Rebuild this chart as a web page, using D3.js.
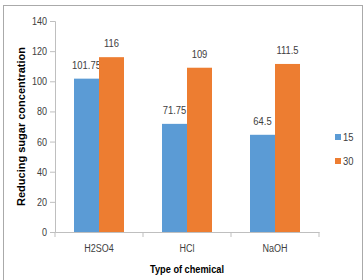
<!DOCTYPE html>
<html>
<head>
<meta charset="utf-8">
<script src="https://cdn.jsdelivr.net/npm/d3@7"></script>
<style>
  body { margin: 0; background: #fff; }
  svg { font-family: "Liberation Sans", Arial, sans-serif; }
</style>
</head>
<body>
<script>
const width = 364;
const height = 280;

var categories = ["H2SO4", "HCl", "NaOH"];
var seriesNames = ["15", "30"];
var values15 = [101.75, 71.75, 64.5];
var values30 = [116, 109, 111.5];
var yTicks = [0, 20, 40, 60, 80, 100, 120, 140];
var colors = ["#5B9BD5", "#ED7D31"];

var margin = { left: 55, right: 45, top: 21, bottom: 48 };
var narrow = 0.82; // squeeze text to look like a condensed font

var svg = d3.select("body")
  .append("svg")
  .attr("width", width)
  .attr("height", height);

// outer frame
svg.append("rect")
  .attr("x", 3.5).attr("y", 5.5)
  .attr("width", 359).attr("height", 290)
  .attr("fill", "none")
  .attr("stroke", "#aaa");

var x = d3.scaleBand()
  .domain(categories)
  .range([margin.left, width - margin.right]);

var x1 = d3.scaleBand()
  .domain(seriesNames)
  .range([0, x.bandwidth()])
  .paddingOuter(0.76);

var y = d3.scaleLinear()
  .domain([0, 140])
  .range([height - margin.bottom, margin.top]);

// y axis
var yAxis = svg.append("g")
  .attr("transform", "translate(" + margin.left + ",0)")
  .call(d3.axisLeft(y).tickValues(yTicks).tickSize(5).tickPadding(3));
yAxis.select(".domain").attr("stroke", "#bfbfbf");
yAxis.selectAll(".tick line").attr("stroke", "#bfbfbf");
yAxis.selectAll(".tick text")
  .attr("x", 0)
  .attr("transform", "translate(-8,0) scale(" + narrow + ",1)")
  .attr("fill", "#404040")
  .style("font-size", "11px");

// x axis
var xAxis = svg.append("g")
  .attr("transform", "translate(0," + y(0) + ")")
  .call(d3.axisBottom(x).tickSize(0).tickPadding(12));
xAxis.select(".domain").attr("stroke", "#bfbfbf");
xAxis.selectAll(".tick text")
  .attr("transform", "scale(" + narrow + ",1)")
  .attr("fill", "#404040")
  .style("font-size", "11px");
// boundary ticks between categories
var bounds = [0, 1, 2, 3].map(function(i) { return margin.left + i * x.bandwidth(); });
svg.append("g").selectAll("line")
  .data(bounds)
  .join("line")
  .attr("x1", function(d) { return d; })
  .attr("x2", function(d) { return d; })
  .attr("y1", y(0))
  .attr("y2", y(0) + 5)
  .attr("stroke", "#bfbfbf");

var series = [values15, values30];

series.forEach(function(vals, s) {
  var g = svg.append("g");
  g.selectAll("rect")
    .data(vals)
    .join("rect")
    .attr("x", function(d, i) { return x(categories[i]) + x1(seriesNames[s]); })
    .attr("y", function(d) { return y(d); })
    .attr("width", x1.bandwidth())
    .attr("height", function(d) { return y(0) - y(d); })
    .attr("fill", colors[s]);
  g.selectAll("text")
    .data(vals)
    .join("text")
    .attr("transform", function(d, i) {
      var cx = x(categories[i]) + x1(seriesNames[s]) + x1.bandwidth() / 2;
      return "translate(" + cx + "," + (y(d) - 10) + ") scale(" + narrow + ",1)";
    })
    .attr("text-anchor", "middle")
    .attr("fill", "#404040")
    .style("font-size", "11.5px")
    .text(function(d) { return d; });
});

// legend
var legend = svg.append("g")
  .selectAll("g")
  .data(seriesNames)
  .join("g")
  .attr("transform", function(d, i) { return "translate(335," + (134 + i * 24) + ")"; });
legend.append("rect")
  .attr("width", 6).attr("height", 6)
  .attr("fill", function(d, i) { return colors[i]; });
legend.append("text")
  .attr("transform", "translate(8,6.5) scale(" + narrow + ",1)")
  .attr("fill", "#404040")
  .style("font-size", "11.5px")
  .text(function(d) { return d; });

// axis titles
svg.append("text")
  .attr("transform", "translate(" + ((margin.left + width - margin.right) / 2) + ",273) scale(0.8,1)")
  .attr("text-anchor", "middle")
  .attr("font-weight", "bold")
  .style("font-size", "11.5px")
  .attr("fill", "#000")
  .text("Type of chemical");

svg.append("text")
  .attr("transform", "translate(25," + ((margin.top + height - margin.bottom) / 2) + ") rotate(-90)")
  .attr("text-anchor", "middle")
  .attr("font-weight", "bold")
  .style("font-size", "11px")
  .attr("fill", "#000")
  .text("Reducing sugar concentration");
</script>
</body>
</html>
